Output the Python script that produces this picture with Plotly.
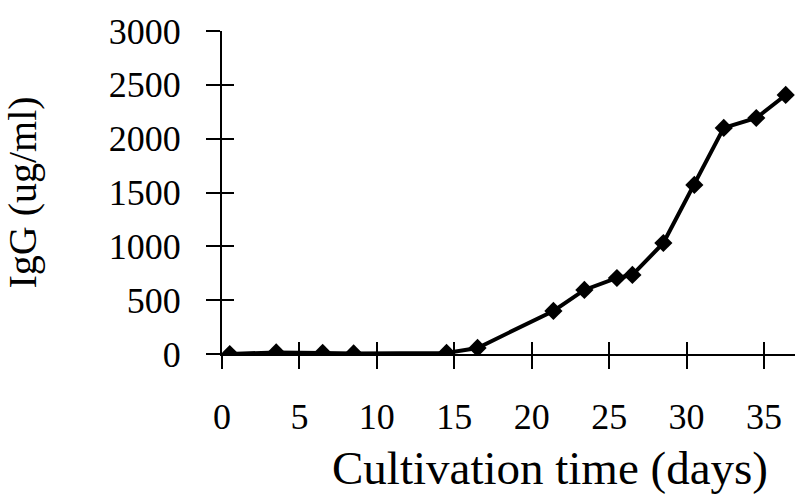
import plotly.graph_objects as go

days = [0.5, 3.5, 6.5, 8.5, 14.5, 16.5, 21.4, 23.4, 25.5, 26.5, 28.5, 30.5, 32.4, 34.5, 36.4]
igg = [0, 15, 10, 5, 10, 56, 400, 595, 706, 734, 1031, 1570, 2100, 2192, 2406]

x_ticks = [0, 5, 10, 15, 20, 25, 30, 35]
y_ticks = [0, 500, 1000, 1500, 2000, 2500, 3000]
x_title = "Cultivation time (days)"
y_title = "IgG (ug/ml)"

FONT = "Liberation Serif"

fig = go.Figure()
fig.add_trace(go.Scatter(
    x=days, y=igg, mode="lines+markers",
    line=dict(color="black", width=4),
    marker=dict(symbol="diamond", size=14, color="black"),
    showlegend=False,
))
# invisible trace on overlay axes so they render
fig.add_trace(go.Scatter(x=[days[0]], y=[igg[0]], xaxis="x2", yaxis="y2",
                         mode="markers", marker=dict(opacity=0), showlegend=False,
                         hoverinfo="skip"))

common_x = dict(range=[0, 37], tickvals=x_ticks, showgrid=False, zeroline=False)
common_y = dict(range=[0, 3000], tickvals=y_ticks, showgrid=False, zeroline=False)

fig.update_layout(
    width=795, height=499,
    margin=dict(l=222, r=0, t=31, b=145),
    plot_bgcolor="white", paper_bgcolor="white",
    font=dict(family=FONT, color="black"),
    xaxis=dict(**common_x, showline=True, linecolor="black", linewidth=2,
               ticks="outside", ticklen=13, tickwidth=2, tickcolor="black",
               tickfont=dict(size=36, family=FONT), ticklabelstandoff=17),
    yaxis=dict(**common_y, showline=True, linecolor="black", linewidth=2,
               ticks="outside", ticklen=14, tickwidth=2, tickcolor="black",
               tickfont=dict(size=36, family=FONT), ticklabelstandoff=18,
               title=dict(text=y_title, font=dict(size=40, family=FONT), standoff=60)),
    xaxis2=dict(**common_x, overlaying="x", ticks="inside", ticklen=12, tickwidth=2,
                tickcolor="black", showticklabels=False, showline=False),
    yaxis2=dict(**common_y, overlaying="y", ticks="inside", ticklen=12, tickwidth=2,
                tickcolor="black", showticklabels=False, showline=False),
    annotations=[dict(text=x_title, xref="paper", yref="paper", x=0.573, y=-0.44,
                      xanchor="center", yanchor="bottom", showarrow=False,
                      font=dict(size=47, family=FONT, color="black"))],
)

fig.write_html("out.html")
